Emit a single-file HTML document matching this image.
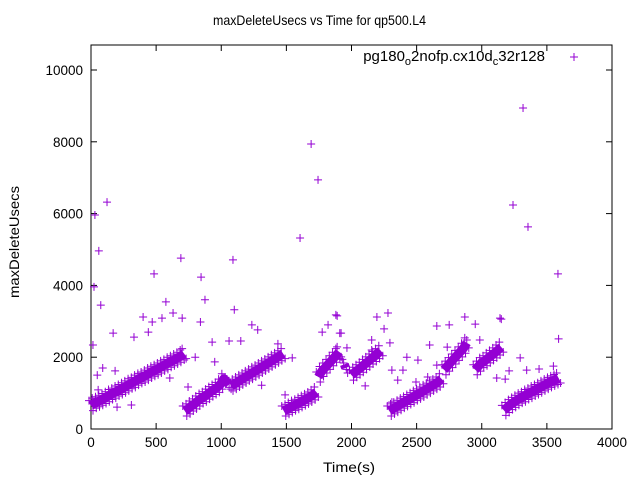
<!DOCTYPE html>
<html><head><meta charset="utf-8"><style>
body{margin:0;background:#fff}
svg{display:block;font-family:"Liberation Sans",sans-serif}
</style></head><body>
<svg id="chart" width="640" height="480" xmlns="http://www.w3.org/2000/svg"></svg>
<script>
const xTicks=[0,500,1000,1500,2000,2500,3000,3500,4000];
const yTicks=[0,2000,4000,6000,8000,10000];
// band segments: x values and y values
const segX=[
[0,25,50,75,100,125,150,175,200,225,250,275,300,325,350,375,400,425,450,475,500,525,550,575,600,625,650,675,700,715],
[720,745,770,795,820,845,870,895,920,945,970,995,1020,1045,1060],
[1075,1100,1125,1150,1175,1200,1225,1250,1275,1300,1325,1350,1375,1400,1425,1450,1475],
[1480,1505,1530,1555,1580,1605,1630,1655,1680,1705,1730],
[1745,1770,1795,1820,1845,1870,1895,1905],
[1945,1955],
[2000,2025,2050,2075,2100,2125,2150,2175,2200,2225],
[2290,2315,2340,2365,2390,2415,2440,2465,2490,2515,2540,2565,2590,2615,2640,2665,2690],
[2710,2735,2760,2785,2810,2835,2860,2885],
[2950,2975,3000,3025,3050,3075,3100,3125,3150],
[3170,3195,3220,3245,3270,3295,3320,3345,3370,3395,3420,3445,3470,3495,3520,3545,3570,3590]
];
const segY=[
[650,720,760,800,850,900,960,1000,1060,1100,1150,1200,1260,1300,1360,1410,1450,1500,1560,1610,1650,1700,1760,1800,1860,1900,1950,2000,2060,2100],
[500,560,640,700,780,850,900,970,1040,1100,1160,1250,1400,1300,1250],
[1200,1250,1310,1370,1420,1480,1530,1590,1640,1700,1760,1810,1870,1930,1980,2040,2100],
[500,550,600,650,690,740,790,840,890,950,1030],
[1450,1600,1700,1800,1900,2000,2100,2150],
[1800,1700],
[1500,1580,1650,1720,1800,1870,1950,2020,2100,2180],
[500,560,610,660,720,770,820,870,930,980,1030,1090,1140,1200,1250,1310,1400],
[1650,1750,1850,1950,2050,2150,2250,2400],
[1650,1750,1850,1900,1980,2050,2120,2200,2280],
[520,600,680,740,800,860,900,960,1000,1060,1100,1150,1200,1250,1300,1340,1380,1420]
];
const outX=[15,30,60,75,123,23,484,690,845,875,1090,1100,1605,1690,1743,1880,3240,3317,3355,3585,3590,3140,
400,470,575,630,700,170,330,440,545,840,1235,1280,1060,1150,930,1435,1890,1820,1775,1910,55,200,310,605,800,745,1310,950,1545,1490,48,90,185,
2195,2280,2250,2295,2155,2655,2750,2870,2950,3150,3295,3115,3180,3210,3345,3440,3550,2425,2510,2600,2655,2310,2395,2355,2495,2585,2105,2310,2155,1965,1920,2985,2885,2735];
const outY=[2340,5960,4960,3450,6320,3960,4320,4760,4230,3600,4710,3320,5320,7940,6940,3180,6240,8940,5630,4320,2510,3090,
3120,2980,3540,3230,3090,2670,2560,2700,3090,2980,2900,2760,2450,2450,2420,2370,3150,2900,2700,2670,1090,610,670,1420,2000,1170,1220,1870,1980,950,1500,1700,1620,
3120,3230,2790,2400,2480,2870,2900,3120,2920,3060,1980,1420,1390,1620,1640,1670,1750,2000,1920,2340,1780,1640,1640,1360,1310,1450,1200,750,2200,2260,2670,2480,2480,2280];

const NS="http://www.w3.org/2000/svg";
const svg=document.getElementById('chart');
const L=91,R=612,T=45,B=429;
const sx=v=>L+(v/4000)*(R-L);
const sy=v=>B-(v/10000)*359;
const C="#9400d3";
function mk(tag,attrs,parent){const e=document.createElementNS(NS,tag);for(const k in attrs)e.setAttribute(k,attrs[k]);(parent||svg).appendChild(e);return e;}

const frame=mk('rect',{x:L,y:T,width:R-L,height:B-T,fill:'none',stroke:'#000','stroke-width':1});



xTicks.forEach(v=>{
  const x=sx(v);
  const t=mk('line',{x1:x,y1:B,x2:x,y2:B-6,stroke:'#000'});
  
  
  mk('line',{x1:x,y1:T,x2:x,y2:T+6,stroke:'#000'});
  const l=mk('text',{x:x,y:B+18,'text-anchor':'middle','font-size':'13.5'});
  l.textContent=v;
  
  
});
yTicks.forEach(v=>{
  const y=sy(v);
  const t=mk('line',{x1:L,y1:y,x2:L+6,y2:y,stroke:'#000'});
  
  
  mk('line',{x1:R,y1:y,x2:R-6,y2:y,stroke:'#000'});
  const l=mk('text',{x:L-8,y:y+5,'text-anchor':'end','font-size':'13.5'});
  l.textContent=v;
  
  
});

const g=mk('g',{stroke:C,'stroke-width':1,fill:'none'});


function cross(x,y){mk('path',{d:`M${x-4},${y}h8M${x},${y-4}v8`},g);}
segX.forEach((xs,i)=>{
  const ys=segY[i];
  const pts=xs.map((x,j)=>sx(x)+','+sy(ys[j])).join(' ');
  const band=mk('polyline',{points:pts,'stroke-width':9,'stroke-linecap':'butt','stroke-linejoin':'round'},g);
  
  
  xs.forEach((x,j)=>{cross(sx(x)-2,sy(ys[j])-5);cross(sx(x)+2,sy(ys[j])+5);});
});
outX.forEach((x,i)=>cross(sx(x),sy(outY[i])));

const title=mk('text',{x:213,y:25,'font-size':'14',textLength:213,lengthAdjust:'spacingAndGlyphs'});
title.textContent='maxDeleteUsecs vs Time for qp500.L4';


const xl=mk('text',{x:323,y:472,'font-size':'14',textLength:52,lengthAdjust:'spacingAndGlyphs'});
xl.textContent='Time(s)';


const yl=mk('text',{x:19,y:298,'font-size':'14',transform:'rotate(-90 19 298)',textLength:112,lengthAdjust:'spacingAndGlyphs'});
yl.textContent='maxDeleteUsecs';



const lg=mk('text',{x:545,y:61,'text-anchor':'end','font-size':'15'});
lg.innerHTML='pg180<tspan dy="4" font-size="11">o</tspan><tspan dy="-4">2nofp.cx10d</tspan><tspan dy="4" font-size="11">c</tspan><tspan dy="-4">32r128</tspan>';


const ls=mk('path',{d:'M570,57h8M574,53v8',stroke:C,'stroke-width':1});


</script>
</body></html>
